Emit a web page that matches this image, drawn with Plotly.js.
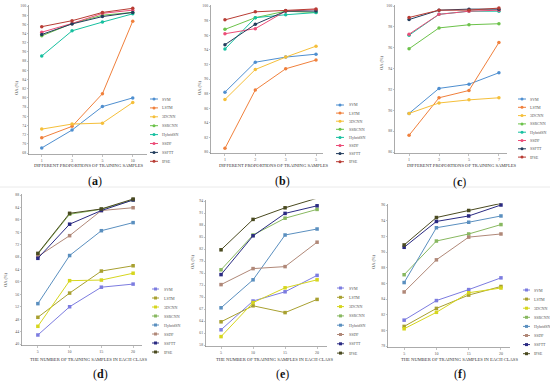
<!DOCTYPE html>
<html><head><meta charset="utf-8">
<script src="https://cdn.plot.ly/plotly-3.0.1.min.js"></script>
<style>html,body{margin:0;padding:0;background:#fff}</style></head>
<body><div id="chart" style="width:550px;height:383px"></div>
<script>
// ---------- DATA ----------
const seriesNames = ['SVM','LSTM','3DCNN','SSRCNN','HybridSN','SSDF','SSFTT','IPSE'];
const xCatsA = ['1','3','5','10'];
const xCatsB = ['1','2','3','5'];
const xCatsC = ['1','3','5','7'];
const xCatsD = ['5','10','15','20'];
const xCatsE = ['5','10','15','20'];
const xCatsF = ['5','10','15','20'];
// rows follow seriesNames order
const oaA = [
  [69.1,73.0,78.1,80.0],
  [71.3,73.8,80.9,96.7],
  [73.2,74.3,74.5,79.0],
  [93.5,96.2,98.0,98.6],
  [89.1,94.6,96.5,98.3],
  [94.3,96.2,98.4,99.1],
  [93.8,96.1,97.7,98.6],
  [95.5,96.8,98.6,99.5]
];
const oaB = [
  [88.2,92.3,93.0,93.4],
  [80.5,88.5,91.4,92.6],
  [87.2,91.3,93.0,94.5],
  [96.8,98.4,99.3,99.1],
  [94.1,98.4,98.8,99.1],
  [96.2,96.9,99.3,99.5],
  [94.7,97.5,99.3,99.3],
  [98.1,99.2,99.4,99.6]
];
const oaC = [
  [89.7,92.1,92.5,93.6],
  [87.6,91.2,91.9,96.5],
  [89.7,90.7,91.0,91.2],
  [95.9,97.9,98.2,98.3],
  [97.2,99.2,99.5,99.5],
  [97.3,99.2,99.5,99.6],
  [98.7,99.6,99.7,99.7],
  [98.9,99.6,99.6,99.8]
];
const oaD = [
  [42.9,52.0,58.3,59.3],
  [48.6,56.4,63.5,65.2],
  [45.7,60.4,60.6,62.8],
  [69.0,81.8,83.4,86.4],
  [53.0,68.5,76.5,79.1],
  [68.2,74.9,83.0,83.9],
  [67.6,78.6,83.0,86.4],
  [69.2,82.1,83.5,86.7]
];
const oaE = [
  [61.8,69.0,71.3,75.4],
  [63.8,67.8,66.1,69.4],
  [60.1,68.6,72.3,74.3],
  [76.8,85.5,89.7,91.9],
  [67.3,74.3,85.5,87.0],
  [73.1,77.1,77.6,83.7],
  [75.6,85.3,90.9,92.8],
  [81.8,89.4,92.3,94.7]
];
const oaF = [
  [81.3,83.8,85.2,86.7],
  [80.5,82.8,84.5,85.6],
  [80.2,82.3,84.8,85.4],
  [87.1,91.4,92.3,93.5],
  [86.1,93.1,93.8,94.6],
  [84.9,89.0,91.9,92.3],
  [90.6,93.9,94.6,96.0],
  [90.9,94.4,95.3,96.2]
];

// ---------- STYLE / LAYOUT ----------
const topColors = ['#4f8fd0','#f0803c','#f5bf3a','#6cc24a','#17c0a0','#ec4d78','#223c5c','#b83c34'];
const botColors = ['#7c7ce0','#a8a030','#d6d61e','#88b860','#5a8fbf','#b08878','#2a2a82','#4a4a20'];
const W = 550, H = 383;
const fx = p => p / W;
const fy = p => 1 - p / H;
const FONT = 'Liberation Serif, serif';

const panels = [
  {cats:xCatsA, vals:oaA, colors:topColors, sym:'circle', x:[29,147], xr:[-0.42,3.47], y:[6,153], yr:[68,100], dt:2,
   xt:'DIFFERENT PROPORTIONS OF TRAINING SAMPLES', xtX:89, xtY:166, ytX:16, ytY:88, lab:'a', labX:95, labY:181,
   leg:{x0:150,x1:158,tx:160,y0:99,dy:8.9}},
  {cats:xCatsB, vals:oaB, colors:topColors, sym:'circle', x:[211,323], xr:[-0.46,3.23], y:[6,152], yr:[80,100], dt:2,
   xt:'DIFFERENT PROPORTIONS OF TRAINING SAMPLES', xtX:274, xtY:166, ytX:199, ytY:88, lab:'b', labX:282, labY:181,
   leg:{x0:336,x1:344,tx:347,y0:105,dy:8.1}},
  {cats:xCatsC, vals:oaC, colors:topColors, sym:'circle', x:[395,507], xr:[-0.47,3.27], y:[6,152], yr:[86,100], dt:2,
   xt:'DIFFERENT PROPORTIONS OF TRAINING SAMPLES', xtX:462, xtY:166, ytX:381, ytY:63, lab:'c', labX:460, labY:182,
   leg:{x0:518,x1:526,tx:528,y0:99,dy:8.3}},
  {cats:xCatsD, vals:oaD, colors:botColors, sym:'square', x:[22,142], xr:[-0.5,3.28], y:[195,344], yr:[40,88], dt:4,
   xt:'THE NUMBER OF TRAINING SAMPLES IN EACH CLASS', xtX:88, xtY:359, ytX:5, ytY:280, lab:'d', labX:100, labY:374,
   leg:{x0:152,x1:159,tx:162,y0:289,dy:9}},
  {cats:xCatsE, vals:oaE, colors:botColors, sym:'square', x:[206,327], xr:[-0.47,3.31], y:[201,345], yr:[58,94], dt:3,
   xt:'THE NUMBER OF TRAINING SAMPLES IN EACH CLASS', xtX:274, xtY:359, ytX:192, ytY:262, lab:'e', labX:282, labY:374,
   leg:{x0:337,x1:344,tx:347,y0:288,dy:9.3}},
  {cats:xCatsF, vals:oaF, colors:botColors, sym:'square', x:[388,510], xr:[-0.5,3.28], y:[205,346], yr:[78,96], dt:2,
   xt:'THE NUMBER OF TRAINING SAMPLES IN EACH CLASS', xtX:459, xtY:359, ytX:373, ytY:262, lab:'f', labX:460, labY:374,
   leg:{x0:523,x1:530,tx:532,y0:290,dy:9.1}}
];

const traces = [];
const layout = {
  width: W, height: H, autosize: false,
  margin: {l:0, r:0, t:0, b:0},
  paper_bgcolor: '#fff', plot_bgcolor: 'rgba(0,0,0,0)',
  showlegend: false,
  font: {family: FONT, color: '#444', size: 5},
  annotations: [], shapes: []
};

panels.forEach((p, k) => {
  const n = k + 1;
  const xa = n === 1 ? 'x' : 'x' + n, ya = n === 1 ? 'y' : 'y' + n;
  const xKey = n === 1 ? 'xaxis' : 'xaxis' + n, yKey = n === 1 ? 'yaxis' : 'yaxis' + n;
  const span = p.yr[1] - p.yr[0];
  const pxPerUnit = (p.y[1] - p.y[0]) / span;
  const pad = 1.5 / pxPerUnit;
  layout[xKey] = {
    domain: [fx(p.x[0]), fx(p.x[1])], anchor: ya, type: 'category',
    range: p.xr, showgrid: false, zeroline: false, showline: true, linecolor: '#888', linewidth: 0.7,
    ticks: 'outside', ticklen: 1.5, tickwidth: 0.5, tickcolor: '#888',
    tickfont: {size: 4, color: '#555', family: FONT}, fixedrange: true
  };
  layout[yKey] = {
    domain: [fy(p.y[1] + 1.5), fy(p.y[0] - 1.5)], anchor: xa,
    range: [p.yr[0] - pad, p.yr[1] + pad], tick0: p.yr[0], dtick: p.dt,
    showgrid: false, zeroline: false, showline: true, linecolor: '#888', linewidth: 0.7,
    ticks: 'outside', ticklen: 1.5, tickwidth: 0.5, tickcolor: '#888',
    tickfont: {size: 3.8, color: '#555', family: FONT}, fixedrange: true
  };
  seriesNames.forEach((name, i) => {
    traces.push({
      type: 'scatter', mode: 'lines+markers', name: name,
      x: p.cats, y: p.vals[i], xaxis: xa, yaxis: ya,
      line: {color: p.colors[i], width: 1},
      marker: {color: p.colors[i], size: 3.5, symbol: p.sym},
      cliponaxis: false
    });
    const yy = p.leg.y0 + i * p.leg.dy;
    layout.shapes.push({type:'line', xref:'paper', yref:'paper',
      x0: fx(p.leg.x0), x1: fx(p.leg.x1), y0: fy(yy), y1: fy(yy),
      line: {color: p.colors[i], width: 1}});
    const xm = (p.leg.x0 + p.leg.x1) / 2;
    layout.shapes.push({type: p.sym === 'circle' ? 'circle' : 'rect', xref:'paper', yref:'paper',
      x0: fx(xm - 1.5), x1: fx(xm + 1.5), y0: fy(yy + 1.5), y1: fy(yy - 1.5),
      fillcolor: p.colors[i], line: {color: p.colors[i], width: 0}});
    layout.annotations.push({xref:'paper', yref:'paper', x: fx(p.leg.tx), y: fy(yy),
      xanchor:'left', yanchor:'middle', showarrow:false, text: name,
      font: {size: 4, color: '#555', family: FONT}});
  });
  layout.annotations.push({xref:'paper', yref:'paper', x: fx(p.xtX), y: fy(p.xtY),
    xanchor:'center', yanchor:'middle', showarrow:false, text: p.xt,
    font: {size: 4.6, color: '#333', family: FONT}});
  layout.annotations.push({xref:'paper', yref:'paper', x: fx(p.ytX), y: fy(p.ytY),
    xanchor:'center', yanchor:'middle', showarrow:false, text: 'OA (%)', textangle: -90,
    font: {size: 4.5, color: '#444', family: FONT}});
  layout.annotations.push({xref:'paper', yref:'paper', x: fx(p.labX), y: fy(p.labY),
    xanchor:'center', yanchor:'middle', showarrow:false, text: '(<b>' + p.lab + '</b>)',
    font: {size: 12, color: '#111', family: FONT}});
});

layout.shapes.push({type:'line', xref:'paper', yref:'paper', x0:0, x1:1, y0:fy(187), y1:fy(187),
  line:{color:'#e4e4e4', width:0.8}});

Plotly.newPlot('chart', traces, layout, {displayModeBar:false, staticPlot:true});
</script></body></html>
